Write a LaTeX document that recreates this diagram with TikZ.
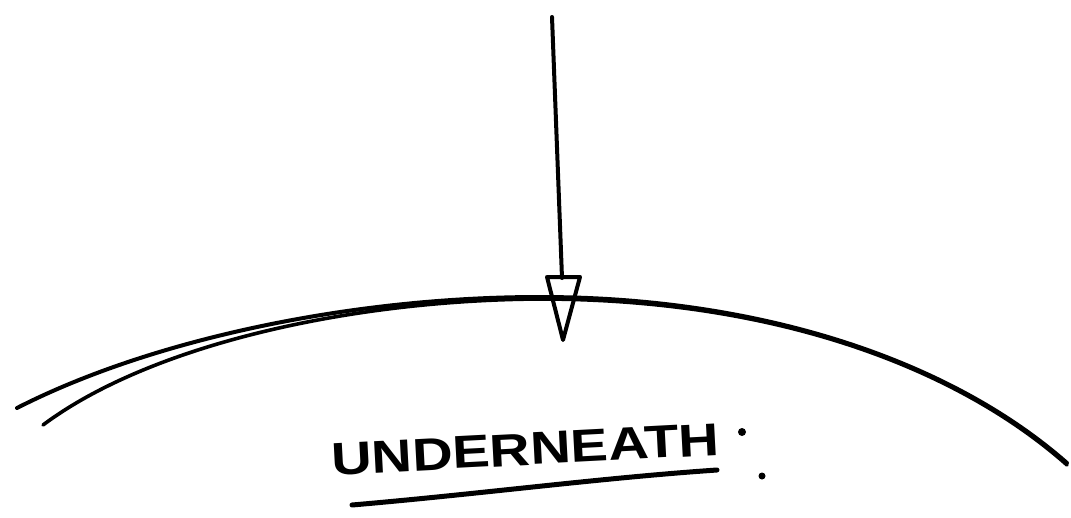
\documentclass[tikz,border=0pt]{standalone}
\usepackage{fontspec}
\newfontfamily\handfont{Liberation Sans}
\begin{document}
\begin{tikzpicture}[x=1pt,y=-1pt,
  ink/.style={line width=4pt,line cap=round,line join=round,black},
  thinink/.style={line width=3.6pt,line cap=round,black}]
\useasboundingbox (0,0) rectangle (1071,517);
% surface arcs
\draw[ink] (17,408) .. controls (150,340) and (350,297) .. (540,297)
                    .. controls (760,297) and (950,360) .. (1067,463);
\draw[thinink] (43,425) .. controls (150,345) and (350,300) .. (540,299)
                    .. controls (780,299) and (960,370) .. (1067,465);
% arrow
\coordinate (top) at (552,17);
\coordinate (head) at (562,278);
\coordinate (hl) at (547,277);
\coordinate (hr) at (580,277);
\coordinate (tip) at (563,340);
\draw[ink] (top) -- (head);
\draw[ink] (hl) -- (hr) -- (tip) -- cycle;
% label
\node[rotate=3,inner sep=0pt,anchor=south west,xscale=1.22] (lbl) at (332,476)
  {\handfont\bfseries\fontsize{46}{46}\selectfont UNDERNEATH};
\coordinate (u1) at (352,505);
\coordinate (u2) at (717,470);
\draw[ink,line width=5pt] (u1) .. controls (480,494) and (600,478) .. (u2);
\fill (742,432) circle (4pt);
\fill (762,476) circle (3.5pt);
\end{tikzpicture}
\end{document}
